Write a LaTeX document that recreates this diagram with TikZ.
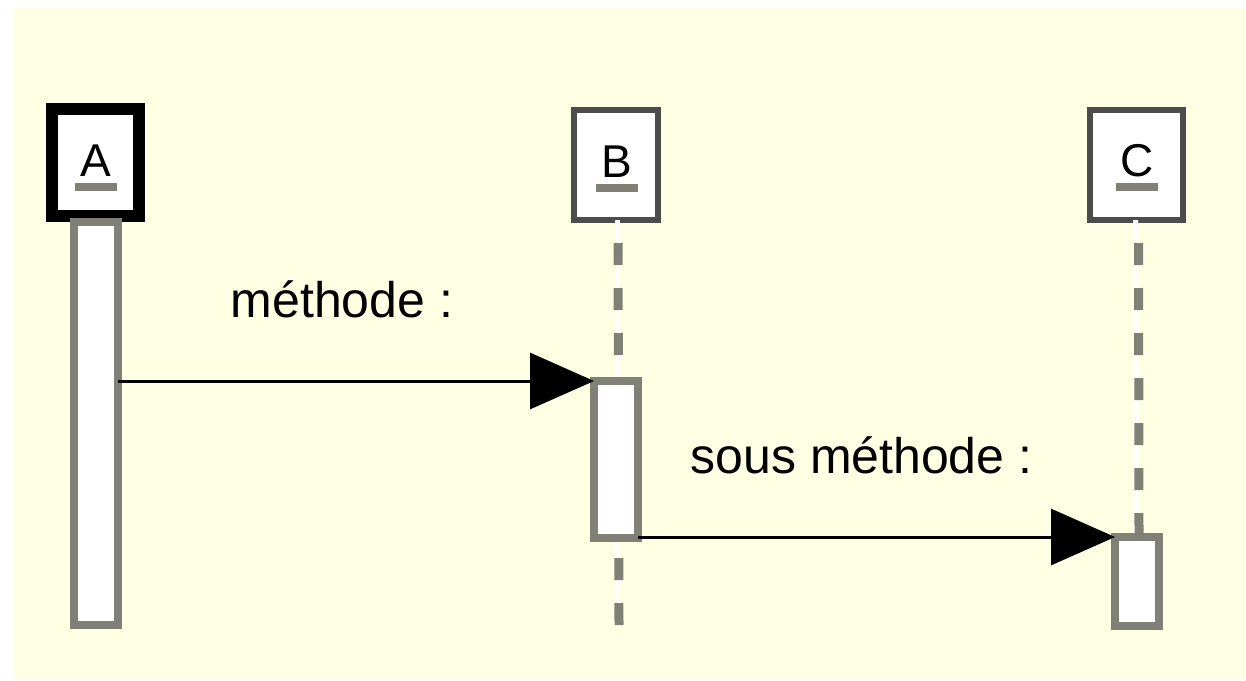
\documentclass[tikz,border=0pt]{standalone}
\usepackage{xcolor}
\usepackage{fontspec}
\setmainfont{Liberation Sans}
\usetikzlibrary{arrows.meta}

\definecolor{notebg}{RGB}{255,255,228}
\definecolor{linegray}{RGB}{128,128,118}

\tikzset{
  objbox/.style={draw=black!70, line width=3pt, fill=white, outer sep=0pt, inner sep=0pt, minimum width=42pt, minimum height=55pt},
  actbar/.style={draw=linegray, line width=4pt, fill=white, outer sep=0pt, inner sep=0pt, minimum width=22pt},
  objname/.style={anchor=base, inner sep=0pt, font=\fontsize{23}{28}\selectfont},
  uline/.style={draw=linegray, line width=4pt},
  msglabel/.style={anchor=base, inner sep=0pt, font=\fontsize{25}{30}\selectfont},
  msg/.style={line width=1.5pt, -{Triangle[length=32pt,width=28pt]}},
  lifewhite/.style={white, line width=2.5pt},
  lifedash/.style={linegray, line width=4.5pt, dash pattern=on 11pt off 11.5pt, dash phase=11pt}
}

\begin{document}
\begin{tikzpicture}[x=0.5pt,y=0.5pt,yscale=-1,xscale=1]
\useasboundingbox (0,0) rectangle (1246,680);

%Shape: background
\fill[notebg] (13,8) rectangle (1246,680);

%Shape: object boxes
\node[objbox, draw=black, line width=6pt, minimum width=43.5pt, minimum height=53.5pt] (Abox) at (95.5,162.5) {};
\node[objbox] (Bbox) at (616,165) {};
\node[objbox, minimum width=46.5pt] (Cbox) at (1136.5,165) {};

% Text Node
\node[objname] (Aname) at (96,176) {A};
\node[objname] (Bname) at (617,177) {B};
\node[objname] (Cname) at (1137,176) {C};
\draw[uline] ([xshift=-10.5pt,yshift=5.5pt]Aname.base) -- ([xshift=10.5pt,yshift=5.5pt]Aname.base);
\draw[uline] ([xshift=-10.5pt,yshift=5.5pt]Bname.base) -- ([xshift=10.5pt,yshift=5.5pt]Bname.base);
\draw[uline] ([xshift=-10.5pt,yshift=5.5pt]Cname.base) -- ([xshift=10.5pt,yshift=5.5pt]Cname.base);

%Straight Lines: lifelines
\coordinate (Bend) at (617,625);
\draw[lifewhite] (Bbox.south) ++(1,0) -- (Bend);
\draw[lifedash] (Bbox.south) ++(2,0) -- ([xshift=1pt]Bend);

%Shape: activation bars
\node[actbar, minimum height=201.5pt] (Aact) at (96,423.5) {};
\node[actbar, minimum height=78.5pt] (Bact) at (616,459.5) {};
\node[actbar, minimum height=44.5pt] (Cact) at (1137,581.5) {};

\draw[lifewhite] ([xshift=-0.5pt]Cbox.south) -- ([xshift=-0.5pt]Cact.north);
\draw[lifedash] ([xshift=1pt]Cbox.south) -- ([xshift=1pt]Cact.north);
\node[actbar, minimum height=44.5pt] at (Cact) {};

%Straight Lines: messages
\draw[msg] (Aact.east |- Bact.north west) -- (Bact.north west);
\draw[msg] (Bact.east |- Cact.north west) -- (Cact.north west);

% Text Node
\node[msglabel] (call) at (342,317) {méthode :};
% Text Node
\node[msglabel] (subcall) at (861.5,473) {sous méthode :};

\end{tikzpicture}
\end{document}
